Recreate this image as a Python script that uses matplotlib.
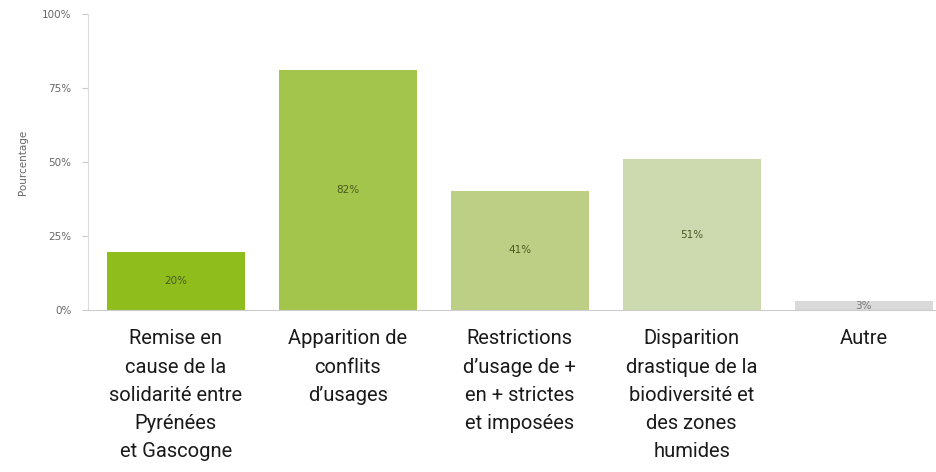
import numpy as np
import matplotlib.pyplot as plt

categories = ['Remise en\ncause de la\nsolidarité entre\nPyrénées\net Gascogne',
              'Apparition de\nconflits\nd\u2019usages',
              'Restrictions\nd\u2019usage de +\nen + strictes\net imposées',
              'Disparition\ndrastique de la\nbiodiversité et\ndes zones\nhumides',
              'Autre']
values = [19.6, 81.2, 40.3, 51.0, 3.0]
labels = ['20%', '82%', '41%', '51%', '3%']
colors = ['#8fbe1c', '#a3c54b', '#bccf84', '#cdd9ae', '#d9d9d9']

fig = plt.figure(figsize=(9.36, 4.72), dpi=100)
ax = fig.add_axes([88/936, 162/472, 848/936, 296/472])

x = np.arange(len(values))
ax.bar(x, values, width=0.8, color=colors, zorder=2)
for xi, v, lab in zip(x, values, labels):
    ax.text(xi, v/2, lab, ha='center', va='center', fontsize=7.5,
            color='#4a5a20' if xi < 4 else '#777777', zorder=3)

ax.set_xlim(-0.51, 4.42)
ax.set_ylim(0, 100)
ax.set_yticks([0, 25, 50, 75, 100])
ax.set_yticklabels(['0%', '25%', '50%', '75%', '100%'], fontsize=7.5, color='#666666')
ax.tick_params(axis='y', length=4, color='#cccccc', pad=8)
ax.set_ylabel('Pourcentage', fontsize=7.5, color='#666666', labelpad=10)

ax.set_xticks(x)
ax.set_xticklabels(categories, fontsize=14.5, color='#1a1a1a', linespacing=1.61,
                   family='Roboto', va='top')
ax.tick_params(axis='x', length=0, pad=14)

for s in ['top', 'right']:
    ax.spines[s].set_visible(False)
ax.spines['left'].set_color('#dddddd')
ax.spines['bottom'].set_color('#cccccc')
ax.spines['left'].set_linewidth(0.8)
ax.spines['bottom'].set_linewidth(0.8)

fig.savefig('out.png', dpi=100)
